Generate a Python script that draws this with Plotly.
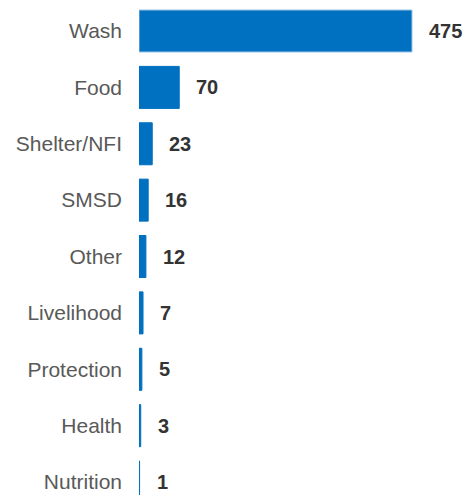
import plotly.graph_objects as go

# Number of activities per sector
sectors = ["Wash", "Food", "Shelter/NFI", "SMSD", "Other",
           "Livelihood", "Protection", "Health", "Nutrition"]
counts = [475, 70, 23, 16, 12, 7, 5, 3, 1]

BAR_BLUE = "#0070C0"
LABEL_GREY = "#595959"
VALUE_DARK = "#333333"
FONT = "Liberation Sans, Arial, sans-serif"

outline = ["#9DC3E6"] + [BAR_BLUE] * (len(counts) - 1)

fig = go.Figure(
    go.Bar(
        x=counts,
        y=sectors,
        orientation="h",
        width=0.745,
        marker=dict(color=BAR_BLUE, line=dict(color=outline, width=1)),
        hoverinfo="skip",
    )
)

# Value labels just past the end of each bar
for s, v in zip(sectors, counts):
    fig.add_annotation(
        x=v, y=s, text=f"<b>{v}</b>", showarrow=False,
        xanchor="left", yanchor="middle", xshift=15,
        font=dict(family=FONT, size=20, color=VALUE_DARK),
    )

fig.update_layout(
    width=464, height=495,
    margin=dict(l=139, r=0, t=0, b=0),
    paper_bgcolor="white", plot_bgcolor="white",
    showlegend=False,
    xaxis=dict(range=[0, 475 * 325 / 273], visible=False, fixedrange=True),
    yaxis=dict(
        categoryorder="array", categoryarray=sectors,
        range=[8.23, -0.55],
        showgrid=False, zeroline=False, showline=False, ticks="",
        ticklabelstandoff=16,
        tickfont=dict(family=FONT, size=21, color=LABEL_GREY),
        fixedrange=True,
    ),
)

fig.write_html("out.html")
